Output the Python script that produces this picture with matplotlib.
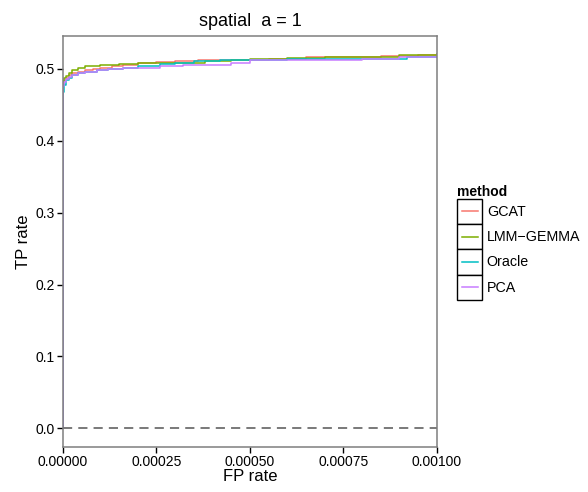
import matplotlib
matplotlib.use("Agg")
import matplotlib.pyplot as plt
from matplotlib.lines import Line2D
from matplotlib.patches import Rectangle
from matplotlib.legend_handler import HandlerBase

plt.rcParams['font.family'] = ['Liberation Sans', 'DejaVu Sans']

methods = ["GCAT", "LMM\u2212GEMMA", "Oracle", "PCA"]
colors = ["#F8766D", "#7CAE00", "#00BFC4", "#C77CFF"]

gcat_fp = [0, 0, 0.000003, 0.000008, 0.000015, 0.000025, 0.00004, 0.00006, 0.00008, 0.0001, 0.00013, 0.00016,
           0.0002, 0.00025, 0.0003, 0.00036, 0.00045, 0.00055, 0.00065, 0.00075, 0.00085, 0.00095, 0.001]
gcat_tp = [0, 0.478, 0.484, 0.488, 0.491, 0.494, 0.496, 0.498, 0.500, 0.502, 0.504, 0.506,
           0.508, 0.510, 0.511, 0.512, 0.513, 0.514, 0.516, 0.517, 0.518, 0.519, 0.520]
lmm_fp = [0, 0, 0.000003, 0.000008, 0.000015, 0.000025, 0.00004, 0.00006, 0.0001, 0.00015, 0.0002, 0.0003,
          0.00038, 0.00045, 0.0005, 0.0006, 0.0007, 0.00085, 0.0009, 0.001]
lmm_tp = [0, 0.483, 0.487, 0.490, 0.494, 0.498, 0.502, 0.504, 0.506, 0.507, 0.508, 0.509,
          0.511, 0.513, 0.514, 0.515, 0.516, 0.517, 0.520, 0.521]
oracle_fp = [0, 0, 0.000003, 0.000008, 0.000015, 0.000025, 0.00004, 0.00006, 0.00009, 0.00012, 0.00016,
             0.0002, 0.00026, 0.0003, 0.00035, 0.00042, 0.0005, 0.0006, 0.0008, 0.00092, 0.001]
oracle_tp = [0, 0.468, 0.478, 0.484, 0.488, 0.491, 0.494, 0.496, 0.498, 0.500, 0.502,
             0.504, 0.507, 0.509, 0.511, 0.512, 0.513, 0.514, 0.514, 0.516, 0.517]
pca_fp = [0, 0, 0.000003, 0.000008, 0.000015, 0.000025, 0.00004, 0.00006, 0.00009, 0.00012, 0.00016,
          0.0002, 0.00026, 0.00032, 0.00038, 0.00045, 0.0005, 0.0006, 0.0008, 0.0009, 0.001]
pca_tp = [0, 0.476, 0.482, 0.486, 0.489, 0.492, 0.494, 0.496, 0.498, 0.500, 0.501,
          0.502, 0.504, 0.505, 0.506, 0.509, 0.512, 0.513, 0.514, 0.516, 0.517]

series = [(gcat_fp, gcat_tp), (lmm_fp, lmm_tp), (oracle_fp, oracle_tp), (pca_fp, pca_tp)]


class BoxLineHandler(HandlerBase):
    def create_artists(self, legend, orig_handle, xdescent, ydescent, width, height, fontsize, trans):
        rect = Rectangle((-xdescent, -ydescent), width, height, facecolor="white",
                         edgecolor="black", lw=1.0, transform=trans)
        pad = width * 0.17
        ln = Line2D([-xdescent + pad, -xdescent + width - pad],
                    [-ydescent + height / 2] * 2, color=orig_handle.get_color(),
                    lw=1.1, transform=trans)
        return [rect, ln]


fig = plt.figure(figsize=(5.88, 4.92), dpi=100)
ax = fig.add_axes([0.107, 0.0915, 0.636, 0.8355])

for (fp, tp), c in zip(series, colors):
    ax.step(fp, tp, where="post", color=c, lw=1.1)

ax.axhline(0, color="#555555", lw=1.1, ls=(0, (6, 4)))

ax.set_xlim(0, 0.001)
ax.set_ylim(-0.026, 0.546)
ax.set_xticks([0, 0.00025, 0.0005, 0.00075, 0.001])
ax.set_xticklabels(["0.00000", "0.00025", "0.00050", "0.00075", "0.00100"])
ax.set_yticks([0, 0.1, 0.2, 0.3, 0.4, 0.5])
ax.set_yticklabels(["0.0", "0.1", "0.2", "0.3", "0.4", "0.5"])
for s in ax.spines.values():
    s.set_color("#7f7f7f")
    s.set_linewidth(1.1)
ax.tick_params(axis="both", colors="black", labelsize=10, length=4, width=1.0, direction="out", pad=2)
ax.set_xlabel("FP rate", fontsize=12, labelpad=0)
ax.set_ylabel("TP rate", fontsize=12, labelpad=3)
ax.set_title("spatial  a = 1", fontsize=13, pad=7)

handles = [Line2D([0], [0], color=c, lw=1.1) for c in colors]
leg = fig.legend(handles, methods, title="method", loc="upper left",
                 bbox_to_anchor=(0.778, 0.625), frameon=False, fontsize=10.3,
                 title_fontproperties={"weight": "bold", "size": 10},
                 handlelength=1.75, handleheight=2.35, handletextpad=0.3,
                 labelspacing=0.0, borderaxespad=0, borderpad=0,
                 handler_map={Line2D: BoxLineHandler()})
leg._legend_box.align = "left"

fig.savefig("out.png", dpi=100)
